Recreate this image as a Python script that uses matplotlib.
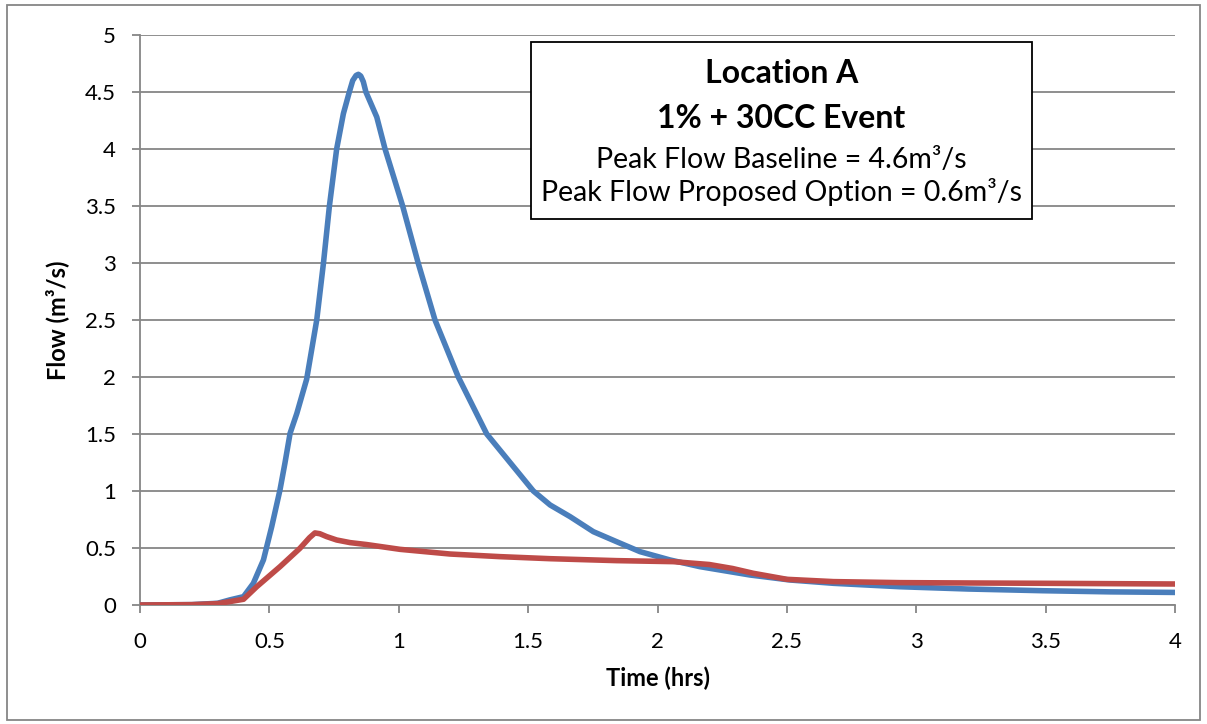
import matplotlib
matplotlib.use("Agg")
import matplotlib.pyplot as plt
from matplotlib.patches import Rectangle

plt.rcParams["font.family"] = ["Lato", "DejaVu Sans"]

# values
base_t = [0.0, 0.2, 0.3, 0.348, 0.40, 0.438, 0.477, 0.509, 0.541, 0.560, 0.580,
          0.606, 0.644, 0.683, 0.709, 0.732, 0.76, 0.786, 0.809,
          0.822, 0.835, 0.844, 0.853, 0.863, 0.873, 0.915, 0.947, 1.015, 1.075,
          1.14, 1.23, 1.34, 1.52, 1.585, 1.662, 1.752, 1.842, 1.932, 2.048,
          2.164, 2.357, 2.512, 2.68, 2.937, 3.2, 3.49, 3.75, 4.0]
base_q = [0.0, 0.003, 0.015, 0.045, 0.073, 0.19, 0.395, 0.687, 1.01, 1.243, 1.506,
          1.68, 1.98, 2.5, 3.0, 3.5, 4.0, 4.31, 4.5,
          4.6, 4.645, 4.655, 4.64, 4.59, 4.5, 4.28, 4.0, 3.5, 3.0,
          2.5, 2.0, 1.5, 1.0, 0.877, 0.775, 0.643, 0.555, 0.468, 0.395,
          0.336, 0.263, 0.219, 0.19, 0.16, 0.14, 0.125, 0.115, 0.11]

prop_t = [0.0, 0.2, 0.3, 0.348, 0.40, 0.451, 0.541, 0.618, 0.655, 0.676, 0.695,
          0.721, 0.76, 0.812, 0.876, 1.005, 1.198, 1.391, 1.585, 1.842, 2.061,
          2.2, 2.29, 2.37, 2.5, 2.68, 2.937, 3.2, 3.5, 3.75, 4.0]
prop_q = [0.0, 0.003, 0.012, 0.03, 0.05, 0.16, 0.336, 0.497, 0.59, 0.632, 0.625,
          0.6, 0.57, 0.547, 0.53, 0.488, 0.447, 0.424, 0.406, 0.389, 0.38,
          0.355, 0.32, 0.278, 0.225, 0.205, 0.196, 0.193, 0.19, 0.187, 0.184]

x_ticks = [0, 0.5, 1, 1.5, 2, 2.5, 3, 3.5, 4]
y_ticks = [0, 0.5, 1, 1.5, 2, 2.5, 3, 3.5, 4, 4.5, 5]
box_lines = ["Location A", "1% + 30CC Event",
             "Peak Flow Baseline = 4.6m³/s",
             "Peak Flow Proposed Option = 0.6m³/s"]

BLUE = "#4A7EBB"
RED = "#BE4B48"
GRID = "#868686"

fig = plt.figure(figsize=(12.07, 7.24), dpi=100)
ax = fig.add_axes([0.116, 0.1644, 0.8575, 0.7873])

ax.plot(base_t, base_q, color=BLUE, lw=4.0, solid_capstyle="round",
        solid_joinstyle="round", zorder=3)
ax.plot(prop_t, prop_q, color=RED, lw=4.0, solid_capstyle="round",
        solid_joinstyle="round", zorder=3)

ax.set_xlim(0, 4)
ax.set_ylim(0, 5)
ax.set_xticks(x_ticks)
ax.set_yticks(y_ticks)
ax.set_xticklabels([f"{v:g}" for v in x_ticks])
ax.set_yticklabels([f"{v:g}" for v in y_ticks])
ax.grid(axis="y", color=GRID, lw=1.3, zorder=0)
for s in ("top", "right"):
    ax.spines[s].set_visible(False)
for s in ("left", "bottom"):
    ax.spines[s].set_color(GRID)
    ax.spines[s].set_linewidth(1.3)
ax.tick_params(direction="out", length=5.8, width=1.3, color=GRID,
               labelsize=16)
ax.tick_params(axis="x", pad=14)
ax.tick_params(axis="y", pad=11.5)
ax.set_xlabel("Time (hrs)", fontsize=17, fontweight="bold")
ax.set_ylabel("Flow (m³/s)", fontsize=17, fontweight="bold")
ax.xaxis.set_label_coords(0.5, -0.108)
ax.yaxis.set_label_coords(-0.069, 0.5)

# annotation box
bx0, bx1, by0, by1 = 1.511, 3.447, 3.386, 4.94
ax.add_patch(Rectangle((bx0, by0), bx1 - bx0, by1 - by0, facecolor="white",
                       edgecolor="black", lw=1.3, zorder=4))
xc = (bx0 + bx1) / 2
ys = [4.576, 4.18, 3.835, 3.545]
sizes = [23, 23, 20.5, 20.5]
weights = ["bold", "bold", "normal", "normal"]
for txt, y, fs, fw in zip(box_lines, ys, sizes, weights):
    ax.text(xc, y, txt, ha="center", va="baseline", fontsize=fs,
            fontweight=fw, zorder=5)

# outer chart border
fig.patches.append(Rectangle((7 / 1207, 4 / 724), 1193 / 1207, 715 / 724,
                             transform=fig.transFigure, fill=False,
                             edgecolor=GRID, lw=1.3))

fig.savefig("out.png", dpi=100)
